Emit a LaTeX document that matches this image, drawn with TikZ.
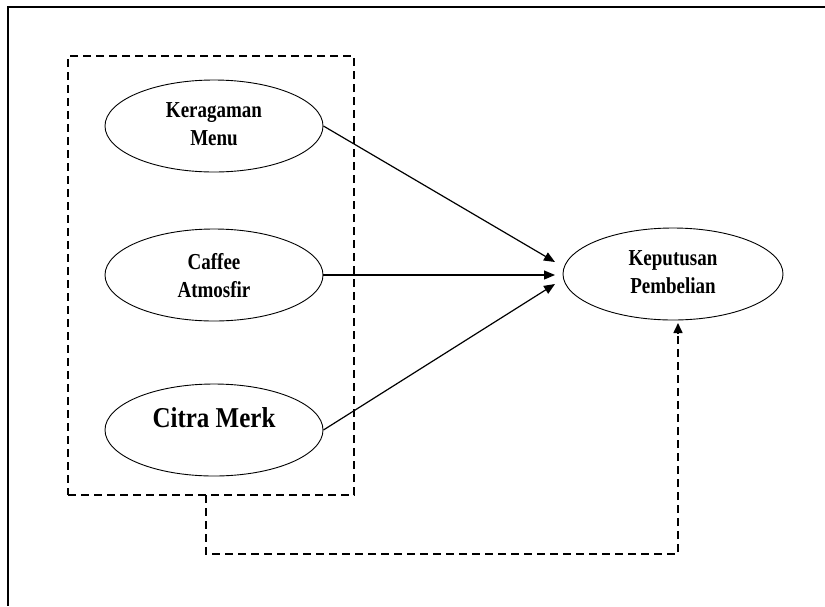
\documentclass[tikz,border=0pt]{standalone}
\usepackage{fontspec}
\setmainfont{Liberation Serif}
\usetikzlibrary{arrows.meta,shapes.geometric,positioning}
\newcommand{\tallA}[2]{\scalebox{1}[1.2]{\begin{tabular}{@{}c@{}}#1\\[1.5pt]#2\end{tabular}}}
\begin{document}
\begin{tikzpicture}[x=1pt,y=-1pt,
  varell/.style={draw,ellipse,line width=0.9pt,minimum width=218pt,minimum height=92pt,inner sep=0pt},
  smalltxt/.style={font=\bfseries\fontsize{19}{22}\selectfont,inner sep=0pt},
  bigtxt/.style={font=\bfseries\fontsize{25}{28}\selectfont,inner sep=0pt},
  conn/.style={line width=1.2pt,-{Triangle[length=11pt,width=9pt]}},
  dconn/.style={line width=1.6pt,dash pattern=on 8pt off 5pt},
  frame/.style={line width=1.6pt}]
\useasboundingbox (0,0) rectangle (825,606);
\draw[frame] (825,7) -- (8,7) -- (8,606);
\node[draw,dconn,minimum width=286pt,minimum height=439pt,inner sep=0pt] (grp) at (211,275.5) {};
\node[varell] (km) at (214,126) {};
\node[smalltxt] (kmt) at (214,126) {\tallA{Keragaman}{Menu}};
\node[varell] (ca) at (214,275) {};
\node[smalltxt] (cat) at (214,278) {\tallA{Caffee}{Atmosfir}};
\node[varell] (cm) at (214,430) {};
\node[bigtxt] (cmt) at (214,418) {\scalebox{1}[1.15]{Citra Merk}};
\node[varell,minimum width=220pt] (kp) at (673,274) {};
\node[smalltxt] (kpt) at (673,274) {\tallA{Keputusan}{Pembelian}};
\coordinate (t1) at (555,262);
\coordinate (t2) at (555,275);
\coordinate (t3) at (555,284);
\draw[conn] (km.east) -- (t1);
\draw[conn] (ca.east) -- (t2);
\draw[conn] (cm.east) -- (t3);
\coordinate (d0) at (206,495);
\coordinate (d1) at (206,554);
\coordinate (d2) at (678,554);
\coordinate (d3) at (678,328);
\draw[dconn] (d0) -- (d1) -- (d2) -- (d3);
\draw[line width=1.6pt,-{Triangle[length=10pt,width=9pt]}] (678,334) -- (678,323);
\end{tikzpicture}
\end{document}
